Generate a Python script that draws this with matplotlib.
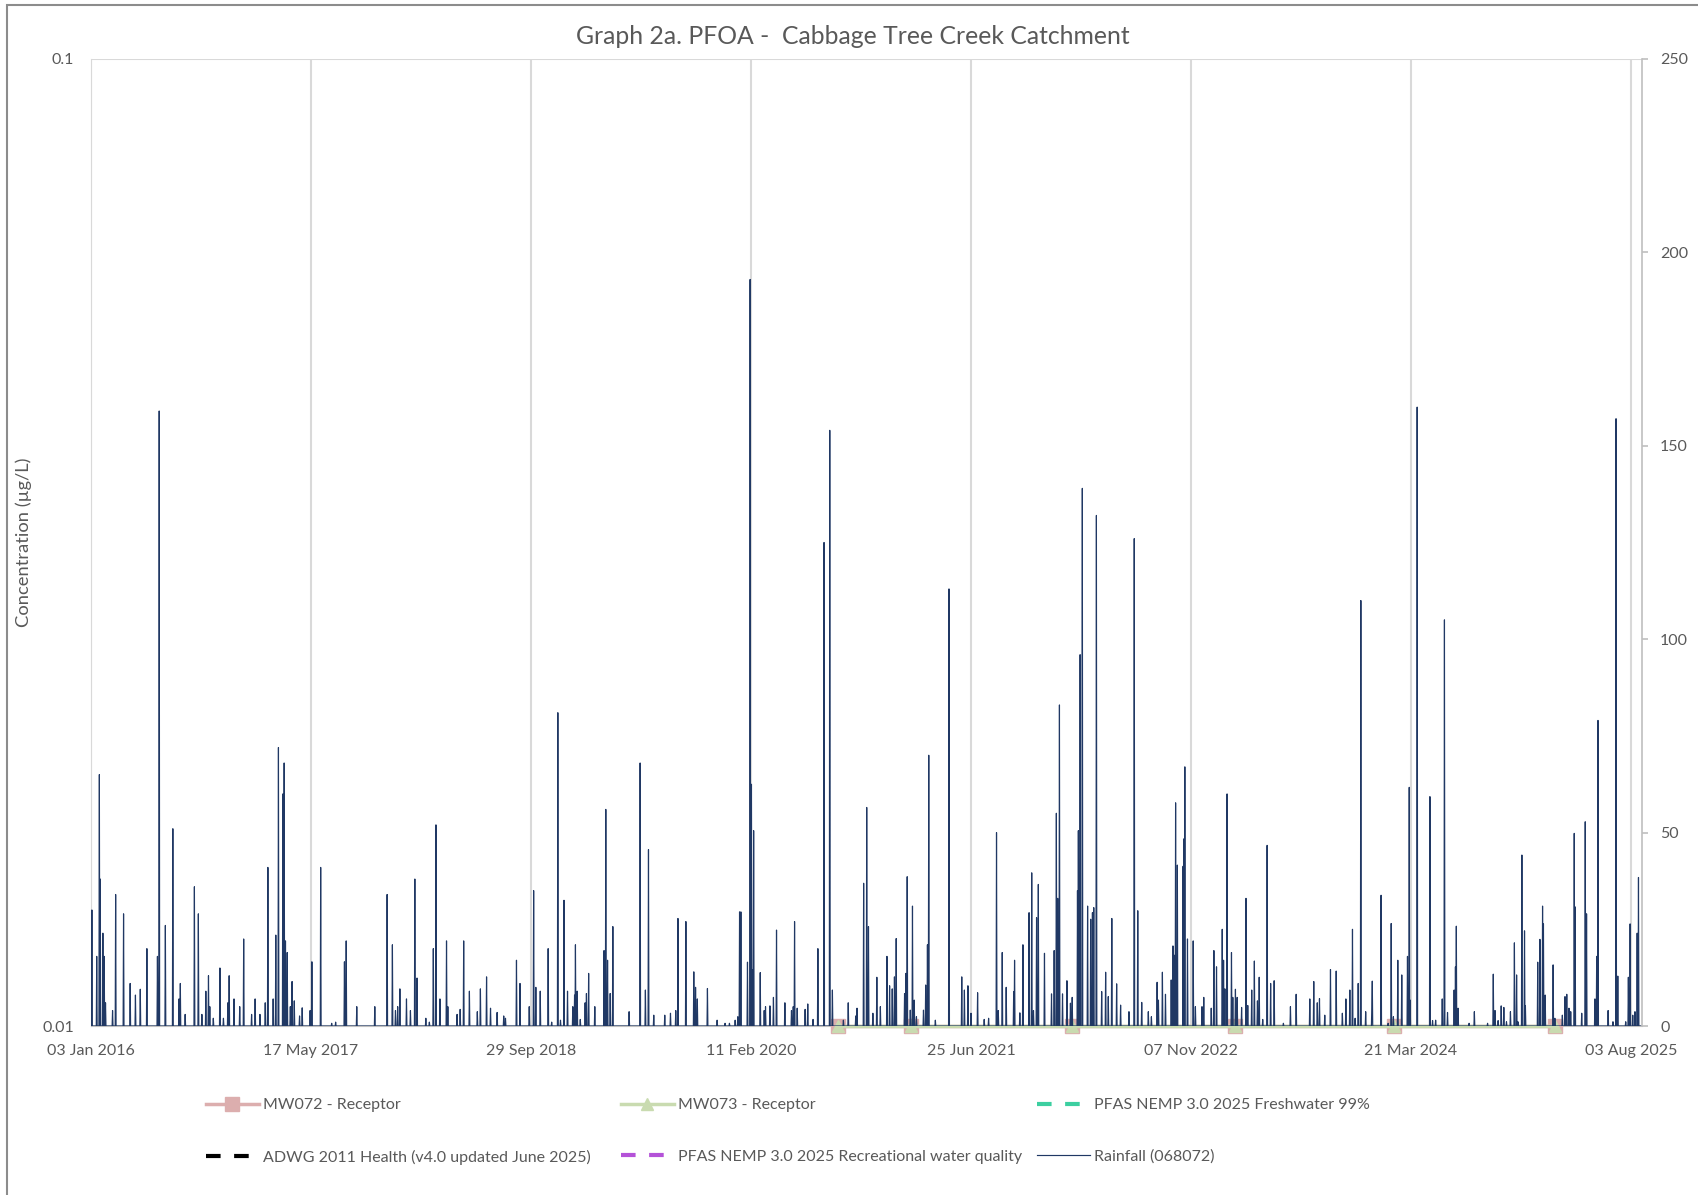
import numpy as np
import pandas as pd
import matplotlib
matplotlib.use('Agg')
import matplotlib.pyplot as plt
import matplotlib.dates as mdates
from matplotlib.patches import Rectangle

plt.rcParams['font.family'] = ['Lato', 'DejaVu Sans']

start = pd.Timestamp('2016-01-03')
end = pd.Timestamp('2025-08-28')

# monitoring results - all below reporting limit, shown at 0.01 ug/L
sample_dates = ['2020-08-27', '2021-02-09', '2022-02-09', '2023-02-15', '2024-02-12', '2025-02-11']
mw072 = [0.01, 0.01, 0.01, 0.01, 0.01, 0.01]
mw073 = [0.01, 0.01, 0.01, 0.01, 0.01, 0.01]

# guideline values (ug/L) - all fall outside the plotted 0.01-0.1 range
nemp_fresh99 = 0.0011
adwg_health = 0.2
nemp_recreational = 10.0

# daily rainfall (mm), station 068072 - days counted from 03 Jan 2016, other days 0
rain_day = [
    2, 13, 19, 21, 27, 30, 33, 49, 56, 74, 89, 101, 112, 127, 151, 155, 169, 186, 200, 203,
    214, 235, 244, 252, 261, 267, 270, 278, 293, 301, 311, 314, 325, 338, 347, 365, 373, 384, 396, 402,
    414, 420, 426, 436, 439, 442, 446, 453, 457, 462, 474, 480, 498, 502, 522, 547, 556, 576, 580,
    604, 645, 673, 685, 692, 697, 702, 717, 726, 736, 741, 761, 769, 778, 784, 793, 808, 811, 832, 839,
    847, 860, 878, 885, 899, 908, 923, 938, 942, 967, 975, 996, 1006, 1011, 1021, 1039, 1047, 1061, 1067,
    1075, 1083, 1095, 1099, 1101, 1105, 1112, 1123, 1126, 1131, 1145, 1166, 1170, 1174,
    1180, 1186, 1223, 1248, 1260, 1267, 1279, 1304, 1317, 1329, 1334, 1352, 1370, 1374, 1378, 1401,
    1423, 1441, 1451, 1464, 1470, 1474, 1477, 1492, 1498, 1501, 1504, 1506, 1521, 1530, 1533, 1543,
    1551, 1558, 1577, 1592, 1596, 1599, 1605, 1623, 1629, 1641, 1652, 1666, 1679, 1685, 1710, 1721,
    1738, 1741, 1756, 1763, 1767,
    1777, 1786, 1794, 1809, 1815, 1821, 1826, 1830, 1849, 1852, 1855, 1862, 1867, 1871, 1876, 1892,
    1897, 1901, 1904, 1919, 1950, 1979, 1985, 1993, 2000, 2015, 2030, 2040, 2058, 2062, 2071, 2080,
    2097, 2099, 2111, 2118, 2132, 2138, 2142, 2149, 2153, 2167, 2183, 2189, 2194, 2197, 2201, 2208,
    2218, 2226, 2230, 2242, 2244, 2248, 2253, 2265, 2272, 2276, 2279, 2285, 2297, 2306, 2312, 2320,
    2331, 2340, 2359,
    2371, 2379, 2388, 2403, 2410, 2423, 2426, 2435, 2442, 2455, 2459, 2462, 2465, 2469, 2482, 2484,
    2486, 2492, 2505, 2510, 2525, 2529, 2546, 2552, 2558, 2571, 2574, 2577, 2582, 2592, 2595, 2601,
    2605, 2615, 2625, 2629, 2638, 2644, 2651, 2655, 2663, 2673, 2681, 2689, 2710, 2726, 2739, 2770,
    2779, 2787, 2792, 2804, 2817, 2830, 2844, 2852, 2861, 2867, 2873, 2880, 2886, 2897, 2911, 2912,
    2932, 2948,
    2955, 2960, 2970, 2979, 2992, 2996, 2998, 3014, 3043, 3049, 3056, 3071, 3076, 3083, 3098, 3101,
    3103, 3107, 3132, 3144, 3174, 3187, 3191, 3198, 3205, 3211, 3217, 3226, 3235, 3240, 3243, 3252,
    3258, 3260, 3288, 3293, 3299, 3301, 3305, 3323, 3327, 3344, 3350, 3354, 3359, 3363, 3371, 3373,
    3388, 3396, 3399, 3418, 3422, 3425, 3448, 3459, 3466, 3470, 3488, 3494, 3498, 3504, 3509, 3514,
    3517,
]
rain_mm = [
    30, 18, 65, 38, 24, 18, 6, 4, 34, 29, 11, 8, 9.5, 20, 18, 159, 26, 51, 7, 11,
    3, 36, 29, 3, 9, 13, 5, 2, 15, 2, 6, 13, 7, 5, 22.5, 3, 7, 3, 6, 41,
    7, 23.5, 72, 60, 68, 22, 19, 5, 11.5, 6.5, 2.6, 4.7, 4, 16.6, 41, 0.7, 1, 16.6, 22,
    5, 5, 34, 21, 4, 5, 9.6, 7, 4, 38, 12.4, 2, 1, 20, 52, 7, 22, 5, 3, 4.3,
    22, 9, 3.7, 9.6, 12.7, 4.6, 3.5, 2.6, 2, 17, 11, 5, 35, 10, 9, 20, 1, 81, 1.5,
    32.5, 9, 5, 8, 21, 9, 1.7, 6, 8.4, 13.6, 5, 19.5, 56, 17,
    8.4, 25.7, 3.7, 68, 9.3, 45.6, 2.8, 2.8, 3.3, 4, 27.8, 27, 14, 10, 7, 9.7,
    1.5, 0.7, 0.7, 1.5, 2.4, 29.5, 29.5, 16.5, 193, 62.5, 14.5, 50.5, 13.8, 4, 5, 5.2,
    7.4, 24.8, 6, 4, 5, 27, 4.6, 4.3, 5.7, 1.7, 20, 125, 154, 9.3, 1.5, 6,
    2.6, 4.6, 36.9, 56.5, 25.7,
    3.3, 12.6, 5, 18, 10.4, 9.6, 12.7, 22.6, 8.4, 13.6, 38.6, 4.1, 31, 6.7, 2.4, 4.1,
    10.6, 21, 70, 1.5, 113, 12.7, 9.3, 10.4, 3.3, 8.6, 1.7, 2, 50, 4, 19, 10,
    8.9, 17, 3.4, 21, 29.3, 39.6, 4, 28, 36.6, 18.8, 8.3, 19.5, 55, 33, 83, 8.3,
    11.7, 5.9, 7.4, 35, 50.5, 96, 139, 31, 27.6, 29.3, 30.6, 132, 8.9, 13.9, 7.6, 27.8,
    10.9, 5.4, 3.7,
    126, 29.8, 6.1, 3.7, 2.4, 11.3, 6.7, 13.9, 8.2, 11.9, 20.7, 18.3, 57.7, 41.6, 41.3, 48.4,
    67, 22.5, 22, 5, 5, 7.4, 4.6, 19.5, 15.3, 25, 17, 9.6, 60, 19, 7.4, 9.5,
    7.4, 4.8, 33, 5.3, 9.3, 16.8, 6.5, 12.6, 1.7, 46.7, 11, 11.7, 0.7, 5, 8.2, 7,
    11.5, 6, 7.1, 2.8, 14.6, 14.2, 3.3, 7, 9.3, 25, 2, 11, 110, 3.7, 5, 11.6,
    33.8, 0.7,
    26.5, 2.4, 17, 13.2, 18, 61.7, 6.7, 160, 59.3, 1.4, 1.5, 7, 105, 3.5, 9.3, 15.3,
    25.8, 4.6, 0.7, 3.7, 0.7, 13.4, 4, 1.4, 5.2, 4.8, 1.1, 3.7, 21.5, 13.2, 1.1, 44.2,
    24.6, 5.3, 16.5, 22.4, 31, 26.4, 8, 15.8, 2, 2.8, 7.6, 8.2, 4.6, 3.7, 49.8, 30.8,
    3.3, 52.8, 29, 7, 18, 79, 4, 1.1, 157, 12.9, 1.1, 12.6, 26.4, 2.8, 3.7, 24,
    38.4,
]

tick_dates = pd.date_range(start, periods=8, freq='500D')

grey_txt = '#595959'
grid_col = '#d9d9d9'
rain_col = '#203864'
pink = '#dcaeae'
green = '#c9dbb0'

days = pd.date_range(start, end, freq='D')
rain = np.zeros(len(days))
rain[rain_day] = rain_mm

fig = plt.figure(figsize=(16.99, 11.95), dpi=100)
ax = fig.add_axes([91 / 1699, 1 - 1026 / 1195, (1642 - 91) / 1699, (1026 - 59) / 1195])
ax2 = ax.twinx()

s_dates = pd.to_datetime(sample_dates)
ax.plot(s_dates, mw072, color=pink, lw=2.5, marker='s', ms=10.5, mfc=pink, mec=pink,
        clip_on=False, zorder=3, label='MW072 - Receptor')
ax.plot(s_dates, mw073, color=green, lw=2.5, marker='^', ms=9, mfc=green, mec=green,
        clip_on=False, zorder=4, label='MW073 - Receptor')
ax.axhline(nemp_fresh99, color='#3ccfa0', lw=3, ls=(0, (3.5, 3.25)),
           label='PFAS NEMP 3.0 2025 Freshwater 99%')
ax.axhline(adwg_health, color='black', lw=3, ls=(0, (3.5, 3.25)),
           label='ADWG 2011 Health (v4.0 updated June 2025)')
ax.axhline(nemp_recreational, color='#b452d8', lw=3, ls=(0, (3.5, 3.25)),
           label='PFAS NEMP 3.0 2025 Recreational water quality')
ax2.plot(days, rain, color=rain_col, lw=0.85, label='Rainfall (068072)')

ax.set_yscale('log')
ax.set_ylim(0.01, 0.1)
ax.set_xlim(start, end)
ax2.set_ylim(0, 250)
ax2.set_yticks([0, 50, 100, 150, 200, 250])

ax.set_xticks(tick_dates)
ax.xaxis.set_major_formatter(mdates.DateFormatter('%d %b %Y'))
ax.set_yticks([0.01, 0.1])
ax.set_yticklabels(['0.01', '0.1'])
ax.yaxis.set_minor_locator(matplotlib.ticker.NullLocator())

ax.grid(True, which='major', color=grid_col, lw=1.5)
ax.set_axisbelow(True)
ax.tick_params(axis='x', length=0, pad=13, labelsize=11.5, labelcolor=grey_txt)
ax.tick_params(axis='y', length=0, pad=12, labelsize=11.5, labelcolor=grey_txt)
ax2.tick_params(axis='y', length=4, width=1.2, color='#bfbfbf', pad=9, labelsize=11.5,
                labelcolor=grey_txt)

ax.spines['top'].set_visible(False)
ax2.spines['top'].set_visible(False)
ax.spines['left'].set_color(grid_col)
ax.spines['bottom'].set_color('#bfbfbf')
ax.spines['right'].set_visible(False)
ax2.spines['left'].set_visible(False)
ax2.spines['bottom'].set_visible(False)
ax2.spines['right'].set_color('#bfbfbf')
ax2.spines['right'].set_linewidth(1.2)

fig.text(853 / 1699, 1 - 37 / 1195, 'Graph 2a. PFOA -  Cabbage Tree Creek Catchment',
         ha='center', va='center', fontsize=17.8, color=grey_txt)
fig.text(24 / 1699, 1 - 542 / 1195, 'Concentration (µg/L)', rotation=90,
         ha='center', va='center', fontsize=13.2, color=grey_txt)

# legend laid out as three columns of two rows, like the Excel original
h1, lab1 = ax.get_legend_handles_labels()
h2, lab2 = ax2.get_legend_handles_labels()
handles = dict(zip(lab1 + lab2, h1 + h2))
cols = [
    (206, ['MW072 - Receptor', 'ADWG 2011 Health (v4.0 updated June 2025)']),
    (621, ['MW073 - Receptor', 'PFAS NEMP 3.0 2025 Recreational water quality']),
    (1037, ['PFAS NEMP 3.0 2025 Freshwater 99%', 'Rainfall (068072)']),
]
for x0, labs in cols:
    leg = fig.legend([handles[l] for l in labs], labs, loc='upper left',
                     bbox_to_anchor=(x0 / 1699, 1 - 1098 / 1195), frameon=False,
                     fontsize=11.5, handlelength=3.3, handletextpad=0.3, borderpad=0,
                     borderaxespad=0, labelspacing=2.35)
    for t in leg.get_texts():
        t.set_color(grey_txt)

fig.patches.append(Rectangle((7.5 / 1699, -0.1), 2, 1 - 4.5 / 1195 + 0.1,
                             transform=fig.transFigure, fill=False, ec='#8c8c8c', lw=1.5))

fig.savefig('out.png', dpi=100)
